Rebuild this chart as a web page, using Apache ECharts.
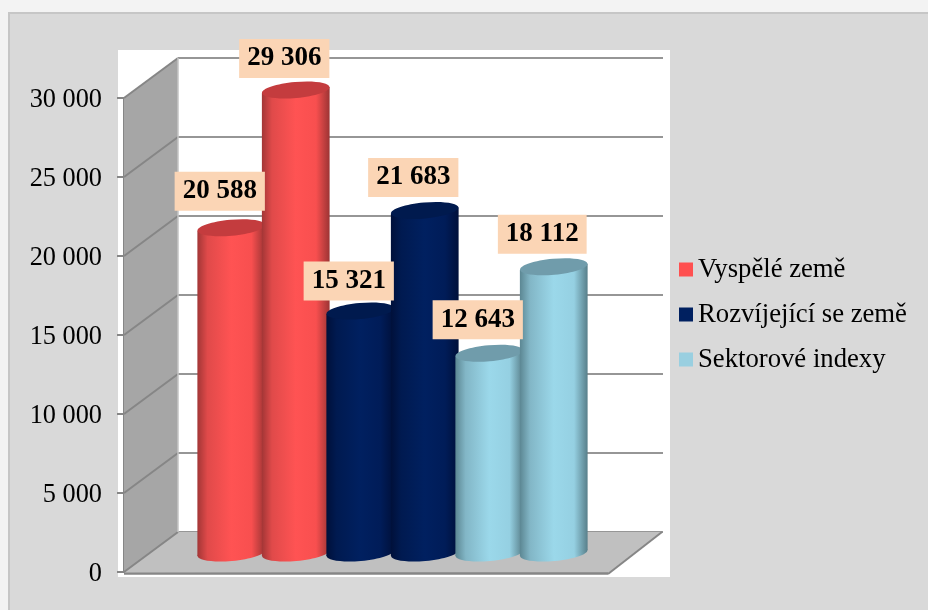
<!DOCTYPE html>
<html>
<head>
<meta charset="utf-8">
<style>html,body{margin:0;padding:0;background:#fff}#c{width:928px;height:610px}</style>
<script src="https://cdn.jsdelivr.net/npm/echarts@6/dist/echarts.min.js"></script>
</head>
<body>
<div id="c"></div>
<script>
const slots = ['1', '2', '3', '4', '5', '6'];
const seriesNames = ['Vyspělé země', 'Rozvíjející se země', 'Sektorové indexy'];
const vyspele = [20588, 29306];
const rozvijejici = [15321, 21683];
const sektorove = [12643, 18112];
const yTicks = [0, 5000, 10000, 15000, 20000, 25000, 30000];

// styling
const labelLift = [[36.5, 31.5], [30, 33], [33.5, 32.5]];
const DEPTH = [54, -40];
const SERIF = '"Liberation Serif","Times New Roman",serif';
const palette = [
  {legend: '#ff5050', top: '#c43c3e', stops: ['#a33636', '#e04a4a', '#ff5353', '#f84f4f', '#9c3434']},
  {legend: '#002060', top: '#001a4e', stops: ['#00103a', '#001a50', '#002060', '#001c58', '#00103a']},
  {legend: '#99cfe0', top: '#709cab', stops: ['#5c8793', '#82b6c6', '#9bd8ea', '#95d0e2', '#587f8a']}
];
const fmt = v => String(v).replace(/\B(?=(\d{3})+$)/g, ' ');

function bodyGradient(p) {
  const at = [0, 0.15, 0.5, 0.8, 1];
  return {type: 'linear', x: 0, y: 0, x2: 1, y2: 0,
    colorStops: p.stops.map((c, i) => ({offset: at[i], color: c}))};
}

function cylinderSeries(name, values, startSlot, idx) {
  const p = palette[idx];
  return {
    name, type: 'custom', xAxisIndex: 2, yAxisIndex: 2, z: 3, clip: false,
    itemStyle: {color: p.legend},
    data: values.map((v, i) => [startSlot + i, v]),
    renderItem(params, api) {
      const slot = api.value(0), val = api.value(1);
      const top = api.coord([slot, val]);
      const base = api.coord([slot, 0]);
      const rx = api.size([1, 0])[0] * 0.525, ry = 8, tilt = 3;
      const grad = bodyGradient(p);
      const cx = top[0];
      const i = params.dataIndex;
      const ellipse = (cy, fill) => ({type: 'ellipse', x: cx, y: cy, rotation: 0.09,
        shape: {cx: 0, cy: 0, rx, ry}, style: {fill}});
      return {type: 'group', children: [
        ellipse(base[1], grad),
        {type: 'polygon', shape: {points: [
          [cx - rx, top[1] + tilt], [cx + rx, top[1] - tilt],
          [cx + rx, base[1] - tilt], [cx - rx, base[1] + tilt]]}, style: {fill: grad}},
        ellipse(top[1], p.top),
        {type: 'text', x: cx - 11.5, y: top[1] - labelLift[idx][i], z2: 100,
          style: {text: fmt(val), fill: '#000', font: 'bold 27px ' + SERIF,
            align: 'center', verticalAlign: 'middle',
            backgroundColor: '#fbd5b5', padding: [6, 8, 6, 8]}}
      ]};
    }
  };
}

const shellSeries = {
  type: 'custom', xAxisIndex: 0, yAxisIndex: 0, z: 1, clip: false, silent: true,
  data: [[0, 0]],
  renderItem(params, api) {
    const band = api.size([1, 0])[0];
    const left = api.coord([0, 0])[0] - band / 2;
    const right = left + band;
    const lo = [left, api.coord([0, yTicks[0]])[1]];
    const hi = [left, api.coord([0, yTicks[yTicks.length - 1]])[1]];
    const back = pt => [pt[0] + DEPTH[0], pt[1] + DEPTH[1]];
    const children = [
      {type: 'polygon', shape: {points: [hi, back(hi), back(lo), lo]},
        style: {fill: '#a6a6a6'}},
      {type: 'polygon', shape: {points: [lo, back(lo), back([right, lo[1]]), [right, lo[1] + 2]]},
        style: {fill: '#c0c0c0'}}
    ];
    yTicks.forEach(t => {
      const a = [left, api.coord([0, t])[1]], b = back(a);
      children.push({type: 'line', shape: {x1: a[0], y1: a[1], x2: b[0], y2: b[1]},
        style: {stroke: '#868686', lineWidth: 2}});
    });
    children.push({type: 'line', shape: {x1: hi[0] + DEPTH[0], y1: hi[1] + DEPTH[1], x2: lo[0] + DEPTH[0], y2: lo[1] + DEPTH[1]},
      style: {stroke: '#c4c4c4', lineWidth: 1.5}});
    children.push({type: 'line', shape: {x1: lo[0], y1: lo[1] + 1.5, x2: right, y2: lo[1] + 1.5},
      style: {stroke: '#868686', lineWidth: 2.5}});
    children.push({type: 'line', shape: {x1: right, y1: lo[1] + 2, x2: right + DEPTH[0], y2: lo[1] + DEPTH[1]},
      style: {stroke: '#868686', lineWidth: 2}});
    return {type: 'group', children};
  }
};

const chart = echarts.init(document.getElementById('c'), null, {renderer: 'canvas'});
chart.setOption({
  animation: false,
  backgroundColor: '#f3f3f3',
  tooltip: {show: false},
  graphic: [
    {type: 'rect', z: -10, shape: {x: 9, y: 13, width: 930, height: 610},
      style: {fill: '#d9d9d9', stroke: '#c6c6c6', lineWidth: 2}},
    {type: 'rect', z: -9, shape: {x: 118, y: 50, width: 552, height: 527},
      style: {fill: '#ffffff'}}
  ],
  legend: {
    left: 674, top: 251, orient: 'vertical', selectedMode: false, icon: 'rect',
    itemWidth: 14, itemHeight: 14, itemGap: 18,
    data: seriesNames,
    textStyle: {fontFamily: SERIF, fontSize: 26.7, color: '#000'}
  },
  grid: [
    {left: 124, top: 98, width: 484, height: 474},
    {left: 178, top: 58, width: 485, height: 474},
    {left: 199, top: 79, width: 387, height: 474}
  ],
  xAxis: [
    {gridIndex: 0, type: 'category', data: ['x'], show: false},
    {gridIndex: 1, type: 'category', data: ['x'], show: false},
    {gridIndex: 2, type: 'category', data: slots, show: false}
  ],
  yAxis: [
    {gridIndex: 0, type: 'value', min: 0, max: 30000, interval: 5000,
      splitLine: {show: false},
      axisLine: {show: true, lineStyle: {color: '#868686', width: 2}},
      axisTick: {show: true, length: 7, lineStyle: {color: '#868686', width: 2}},
      axisLabel: {fontFamily: SERIF, fontSize: 26.3, color: '#000', margin: 22, verticalAlign: 'top', lineHeight: 5, formatter: fmt}},
    {gridIndex: 1, type: 'value', min: 0, max: 30000, interval: 5000,
      axisLine: {show: false}, axisTick: {show: false}, axisLabel: {show: false},
      splitLine: {show: true, lineStyle: {color: '#969696', width: 2}}},
    {gridIndex: 2, type: 'value', min: 0, max: 30000, interval: 5000, show: false}
  ],
  series: [
    shellSeries,
    cylinderSeries(seriesNames[0], vyspele, 0, 0),
    cylinderSeries(seriesNames[1], rozvijejici, 2, 1),
    cylinderSeries(seriesNames[2], sektorove, 4, 2)
  ]
});
</script>
</body>
</html>
